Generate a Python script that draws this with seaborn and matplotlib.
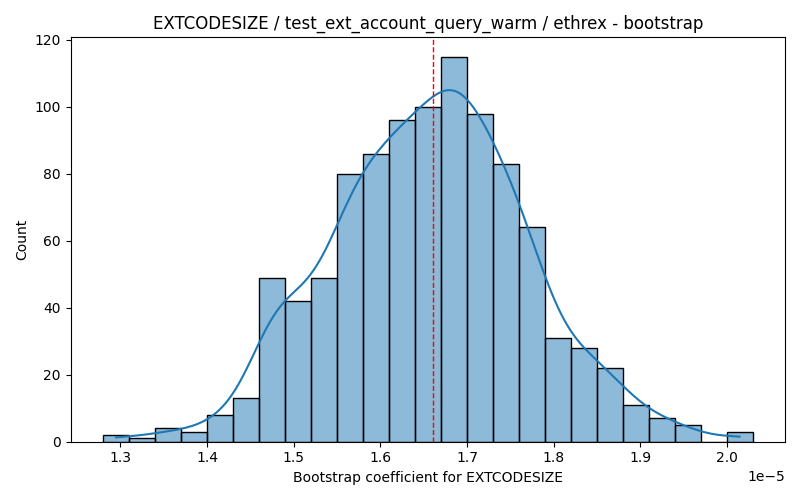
import numpy as np
import matplotlib
matplotlib.use("Agg")
import matplotlib.pyplot as plt
import seaborn as sns

# ==========================================
# Bootstrap histogram data
# ==========================================

# Bin range of the bootstrap coefficients
bin_low = 1.2800e-5
bin_high = 2.0295e-5
n_bins = 25

# Counts per bin, left to right
counts = [2, 1, 4, 3, 8, 13, 49, 42, 49, 80, 86, 96, 100,
          115, 98, 83, 64, 31, 28, 22, 11, 7, 5, 0, 3]

# Mean of the bootstrap coefficients
mean_coef = 1.6605e-5

title = "EXTCODESIZE / test_ext_account_query_warm / ethrex - bootstrap"
x_label = "Bootstrap coefficient for EXTCODESIZE"

# Bin centres used as sample positions, weighted by their counts
width = (bin_high - bin_low) / n_bins
centres = [bin_low + width * (i + 0.5) for i in range(n_bins)]

# ==========================================
# Plot
# ==========================================

fig, ax = plt.subplots(figsize=(8, 5), dpi=100)

# Weighted points give a small effective sample size, so narrow the
# bandwidth to match a KDE over the raw 1000 bootstrap draws
sns.histplot(
    x=centres,
    weights=counts,
    bins=n_bins,
    binrange=(bin_low, bin_high),
    kde=True,
    kde_kws={"bw_adjust": 0.40},
    ax=ax
)

ax.axvline(mean_coef, color="red", linestyle="--", linewidth=1)

ax.set_title(title)
ax.set_xlabel(x_label)
ax.set_ylabel("Count")

plt.tight_layout()
plt.savefig("out.png")
